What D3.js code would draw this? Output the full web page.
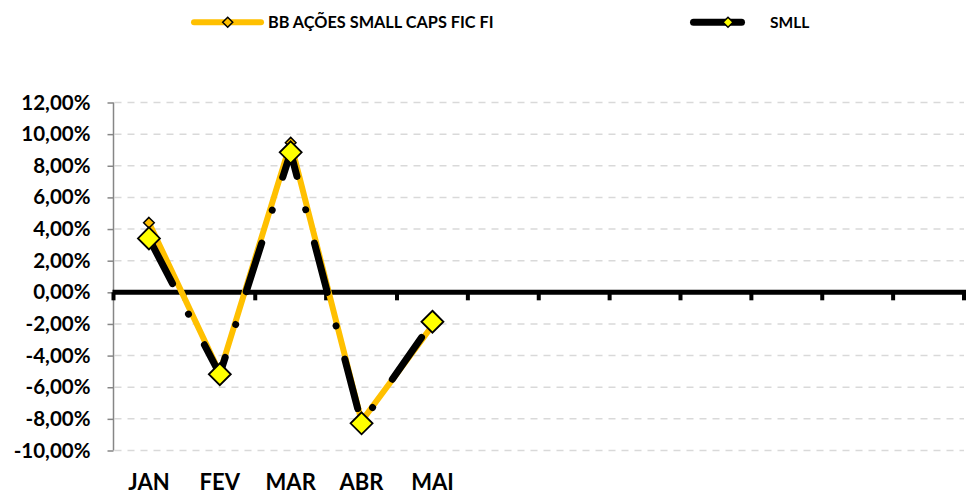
<!DOCTYPE html>
<html>
<head>
<meta charset="utf-8">
<script src="https://cdn.jsdelivr.net/npm/d3@7"></script>
<style>
  html, body { margin: 0; padding: 0; background: #fff; }
  svg { display: block; }
  text { font-family: Lato, "Open Sans", sans-serif; font-weight: 700; fill: #000; }
</style>
</head>
<body>
<svg id="chart" width="966" height="495"></svg>
<script>
// ---- data ----
const months = ["JAN", "FEV", "MAR", "ABR", "MAI", "JUN", "JUL", "AGO", "SET", "OUT", "NOV", "DEZ"];
const monthLabels = ["JAN", "FEV", "MAR", "ABR", "MAI", "", "", "", "", "", "", ""];
const fundName = "BB AÇÕES SMALL CAPS FIC FI";
const indexName = "SMLL";
const fundValues = [4.40, -5.10, 9.46, -8.15, -2.10];   // % per month
const smllValues = [3.41, -5.18, 8.85, -8.28, -1.86];   // % per month
const yTicks = [-10, -8, -6, -4, -2, 0, 2, 4, 6, 8, 10, 12];

// ---- layout ----
const svg = d3.select("#chart");
const plotL = 113.5, plotR = 964, plotT = 102.5, plotB = 450.5;
const ORANGE = "#FFC000", YELLOW = "#FFFF00";

const x = d3.scaleBand().domain(months).range([plotL, plotR]).padding(0);
const y = d3.scaleLinear().domain([-10, 12]).range([plotB, plotT]);
const cx = m => x(m) + x.bandwidth() / 2;

const fmt = v => v.toFixed(2).replace(".", ",") + "%";
const diamond = r => `M0,${-r}L${r},0L0,${r}L${-r},0Z`;

// gridlines
svg.append("g").selectAll("line").data(yTicks.filter(t => t !== 0)).join("line")
  .attr("x1", plotL + 1).attr("x2", plotR)
  .attr("y1", d => y(d)).attr("y2", d => y(d))
  .attr("stroke", "#D9D9D9").attr("stroke-width", 1.5)
  .attr("stroke-dasharray", "7,6");

// y axis
const yAxis = svg.append("g").attr("transform", `translate(${plotL},0)`)
  .call(d3.axisLeft(y).tickValues(yTicks).tickSize(6).tickPadding(17).tickFormat(fmt));
yAxis.select(".domain").attr("stroke", "#868686").attr("stroke-width", 1.5)
  .attr("d", `M0,${plotT}V${plotB}`);
yAxis.selectAll(".tick line").attr("stroke", "#868686").attr("stroke-width", 1.5);
yAxis.selectAll(".tick text").style("font-size", "20.5px").style("font-family", "Lato, sans-serif")
  .style("font-weight", "700").attr("fill", "#000");

// zero (category) axis
const zeroY = y(0);
svg.append("g").selectAll("rect").data(d3.range(months.length + 1)).join("rect")
  .attr("x", i => plotL + i * x.bandwidth() - 2).attr("width", 4)
  .attr("y", zeroY).attr("height", 8).attr("fill", "#000");
svg.append("line").attr("x1", plotL - 1).attr("x2", 966)
  .attr("y1", zeroY).attr("y2", zeroY)
  .attr("stroke", "#000").attr("stroke-width", 5);

// x labels
svg.append("g").selectAll("text").data(months).join("text")
  .attr("x", d => cx(d)).attr("y", 490)
  .attr("text-anchor", "middle").style("font-size", "22px")
  .text((d, i) => monthLabels[i]);

// lines
const lineGen = d3.line().x((d, i) => cx(months[i])).y(d => y(d));
const DASH = "51,34.5,0.01,34.5";

svg.append("path").datum(fundValues).attr("d", lineGen)
  .attr("fill", "none").attr("stroke", ORANGE).attr("stroke-width", 6)
  .attr("stroke-linejoin", "round").attr("stroke-linecap", "round");
svg.append("g").selectAll("path").data(fundValues).join("path")
  .attr("transform", (d, i) => `translate(${cx(months[i])},${y(d)})`)
  .attr("d", diamond(5.3)).attr("fill", ORANGE).attr("stroke", "#000").attr("stroke-width", 1.5);

svg.append("path").datum(smllValues).attr("d", lineGen)
  .attr("fill", "none").attr("stroke", "#000").attr("stroke-width", 7)
  .attr("stroke-linejoin", "round").attr("stroke-linecap", "round")
  .attr("stroke-dasharray", DASH);
svg.append("g").selectAll("path").data(smllValues).join("path")
  .attr("transform", (d, i) => `translate(${cx(months[i])},${y(d)})`)
  .attr("d", diamond(11)).attr("fill", YELLOW).attr("stroke", "#000").attr("stroke-width", 1.8);

// legend
const ly = 22.3;
const lg = svg.append("g");
lg.append("line").attr("x1", 194).attr("x2", 261).attr("y1", ly).attr("y2", ly)
  .attr("stroke", ORANGE).attr("stroke-width", 6).attr("stroke-linecap", "round");
lg.append("path").attr("transform", `translate(227.7,${ly})`).attr("d", diamond(5))
  .attr("fill", ORANGE).attr("stroke", "#000").attr("stroke-width", 1.5);
lg.append("text").attr("x", 268).attr("y", ly + 6).style("font-size", "16.3px").text(fundName);

lg.append("line").attr("x1", 693.5).attr("x2", 761).attr("y1", ly).attr("y2", ly)
  .attr("stroke", "#000").attr("stroke-width", 7).attr("stroke-linecap", "round")
  .attr("stroke-dasharray", "48,34.5,0.01,34.5");
lg.append("path").attr("transform", `translate(728,${ly})`).attr("d", diamond(5))
  .attr("fill", YELLOW).attr("stroke", "#000").attr("stroke-width", 1.5);
lg.append("text").attr("x", 770).attr("y", ly + 6).style("font-size", "15.5px").text(indexName);
</script>
</body>
</html>
